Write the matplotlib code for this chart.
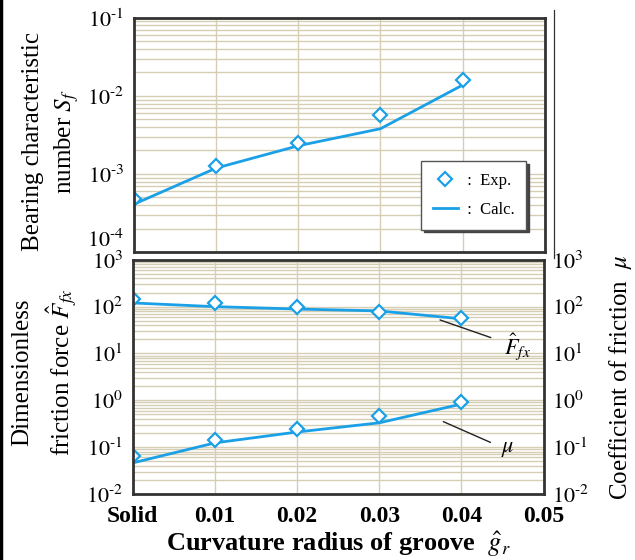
#!/usr/bin/env python3

import numpy as np
import matplotlib
matplotlib.use('Agg')
from matplotlib import pyplot as plt
from matplotlib.lines import Line2D
from matplotlib.ticker import LogLocator, FixedLocator, FixedFormatter, NullFormatter, FuncFormatter
# --

plt.rcParams['font.family'] = ['Liberation Serif', 'DejaVu Serif']
plt.rcParams['mathtext.fontset'] = 'stix'

x_pos = [0.0, 0.01, 0.02, 0.03, 0.04]
x_ticks = [0.0, 0.01, 0.02, 0.03, 0.04, 0.05]
x_labels = ['Solid', '0.01', '0.02', '0.03', '0.04', '0.05']

sf_ticks = [1e-4, 1e-3, 1e-2, 1e-1]
sf_exp = [4.8e-4, 1.27e-3, 2.5e-3, 5.7e-3, 1.6e-2]
sf_calc = [4.1e-4, 1.19e-3, 2.3e-3, 3.8e-3, 1.38e-2]

fr_ticks = [1e-2, 1e-1, 1e0, 1e1, 1e2, 1e3]
ffx_exp = [147, 120, 100, 77, 57]
ffx_calc = [120, 100, 89, 81, 55]

mu_exp = [0.065, 0.142, 0.245, 0.46, 0.93]
mu_calc = [0.046, 0.123, 0.21, 0.33, 0.83]

blue = '#1aa0e6'
grid_col = '#d6ceb4'
spine_col = '#333333'
fs_tick = 16
fs_lab = 18
# --

def pow10(v, pos):
  # exponent label with a short hyphen like the original
  e = int(round(np.log10(v)))
  if e < 0:
    return '$10^{\\text{-}%d}$' % (-e)
  return '$10^{%d}$' % e

def style_axes(ax, yticks):
  ax.set_yscale('log')
  ax.set_xlim(0, 0.05)
  ax.set_ylim(yticks[0], yticks[-1])
  ax.xaxis.set_major_locator(FixedLocator(x_ticks))
  ax.set_yticks(yticks)
  ax.yaxis.set_major_formatter(FuncFormatter(pow10))
  ax.yaxis.set_minor_locator(LogLocator(base=10, subs=np.arange(2, 10), numticks=20))
  ax.yaxis.set_minor_formatter(NullFormatter())
  ax.grid(True, which='both', axis='y', color=grid_col, lw=1.0)
  ax.grid(True, which='major', axis='x', color=grid_col, lw=1.0)
  ax.set_axisbelow(True)
  ax.tick_params(which='both', length=0, labelsize=fs_tick)
  ax.tick_params(axis='y', pad=7)
  for s in ax.spines.values():
    s.set_linewidth(2.0)
    s.set_color(spine_col)
# --

fig = plt.figure(figsize=(6.35, 5.6), dpi=100)

# top panel: bearing characteristic number
ax1 = fig.add_axes([0.211, 0.55, 0.647, 0.418])
style_axes(ax1, sf_ticks)
ax1.set_xticklabels([])
ax1.get_yticklabels()[0].set_verticalalignment('bottom')
ax1.plot(x_pos, sf_calc, '-', color=blue, lw=2.0, label=' :  Calc.')
ax1.plot(x_pos, sf_exp, 'D', color=blue, mfc='white', ms=7, mew=1.6, ls='none', label=' :  Exp.')
ax1.set_ylabel('Bearing characteristic\nnumber $S_f$', fontsize=fs_lab, linespacing=1.45)
ax1.yaxis.set_label_coords(-0.128, 0.47)
h, l = ax1.get_legend_handles_labels()
leg = ax1.legend(h[::-1], l[::-1], loc='lower right', bbox_to_anchor=(0.975, 0.06),
                 fontsize=12, frameon=True, fancybox=False, shadow={'color': '#444444', 'alpha': 1.0},
                 handlelength=1.5, borderpad=0.7, labelspacing=0.8, handletextpad=0.3)
leg.get_frame().set_edgecolor('#555555')
leg.get_frame().set_linewidth(1.0)

# bottom panel: friction force and coefficient of friction
ax2 = fig.add_axes([0.209, 0.118, 0.647, 0.418])
style_axes(ax2, fr_ticks)
ax2.xaxis.set_major_formatter(FixedFormatter(x_labels))
for t in ax2.get_xticklabels():
  t.set_fontweight('bold')
  t.set_fontsize(17)
ax2.tick_params(axis='x', pad=9)
ax2.plot(x_pos, ffx_calc, '-', color=blue, lw=2.0)
ax2.plot(x_pos, ffx_exp, 'D', color=blue, mfc='white', ms=7, mew=1.6, ls='none')
ax2.plot(x_pos, mu_calc, '-', color=blue, lw=2.0)
ax2.plot(x_pos, mu_exp, 'D', color=blue, mfc='white', ms=7, mew=1.6, ls='none')
ax2.set_ylabel('Dimensionless\nfriction force $\\hat{F}_{fx}$', fontsize=fs_lab, linespacing=1.45)
ax2.yaxis.set_label_coords(-0.128, 0.52)
ax2.set_xlabel('Curvature radius of groove  $\\hat{g}_r$', fontsize=19, fontweight='bold', labelpad=1)

ax2.annotate('$\\hat{F}_{fx}$', xy=(0.0374, 52), xytext=(0.0452, 13.8), fontsize=16,
             ha='left', va='center',
             arrowprops=dict(arrowstyle='-', color='#222222', lw=1.0, shrinkA=8, shrinkB=0))
ax2.annotate('$\\mu$', xy=(0.0378, 0.35), xytext=(0.0448, 0.087), fontsize=16,
             ha='left', va='center',
             arrowprops=dict(arrowstyle='-', color='#222222', lw=1.0, shrinkA=6, shrinkB=0))

ax3 = ax2.twinx()
ax3.set_yscale('log')
ax3.set_ylim(fr_ticks[0], fr_ticks[-1])
ax3.set_yticks(fr_ticks)
ax3.yaxis.set_major_formatter(FuncFormatter(pow10))
ax3.yaxis.set_minor_formatter(NullFormatter())
ax3.tick_params(which='both', length=0, labelsize=fs_tick, pad=6)
ax3.set_ylabel('Coefficient of friction  $\\mu$', fontsize=fs_lab)
ax3.yaxis.set_label_coords(1.155, 0.5)
for s in ax3.spines.values():
  s.set_visible(False)

# thin vertical rule right of the top panel and border at the left edge
fig.add_artist(Line2D([554/635, 554/635], [1-10/560, 1-258/560], color='#333333', lw=0.9))
fig.add_artist(Line2D([0.002, 0.002], [0, 1], color='black', lw=2.5))

plt.savefig('out.png', dpi=100)
plt.close('all')
